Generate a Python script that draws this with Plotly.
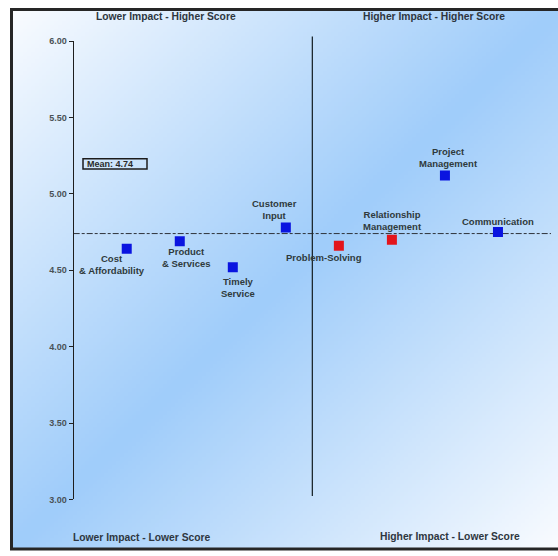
import base64
import struct
import zlib

import numpy as np
import plotly.graph_objects as go

# ---- data -------------------------------------------------------------
drivers = [
    "Cost<br>& Affordability",
    "Product<br>& Services",
    "Timely<br>Service",
    "Customer<br>Input",
    "Problem-Solving",
    "Relationship<br>Management",
    "Project<br>Management",
    "Communication",
]
impact_rank = [1, 2, 3, 4, 5, 6, 7, 8]
scores = [4.64, 4.69, 4.52, 4.78, 4.66, 4.70, 5.12, 4.75]
flagged = [False, False, False, False, True, True, False, False]
mean_score = 4.74
impact_split = 4.5
y_ticks = [3.0, 3.5, 4.0, 4.5, 5.0, 5.5, 6.0]
quadrant_titles = [
    "Lower Impact - Higher Score",
    "Higher Impact - Higher Score",
    "Lower Impact - Lower Score",
    "Higher Impact - Lower Score",
]

# ---- page geometry (pixels) ----------------------------------------------
W, H = 558, 556


def px(x):
    return x / W


def py(y):
    return 1 - y / H


# label placement relative to each marker, in pixels (right, down)
label_offsets = [(-15, 16), (7, 16), (5, 20), (-11, -18),
                 (-15, 12), (1, -19), (4, -18), (0, -11)]


# ---- background: reflected diagonal gradient, encoded as PNG ----------
def gradient_png(w, h):
    xs = np.linspace(0, 1, w)[None, :]
    ys = np.linspace(0, 1, h)[:, None]
    t = (xs + ys) / 2
    k = 1 - np.abs(2 * t - 1)
    k = k ** 0.95
    white = np.array([250, 252, 255], float)
    blue = np.array([160, 205, 250], float)
    img = white + (blue - white) * k[..., None]
    img = np.clip(img, 0, 255).astype(np.uint8)
    raw = b"".join(b"\x00" + img[r].tobytes() for r in range(h))

    def chunk(tag, data):
        c = struct.pack(">I", len(data)) + tag + data
        return c + struct.pack(">I", zlib.crc32(tag + data) & 0xFFFFFFFF)

    png = b"\x89PNG\r\n\x1a\n"
    png += chunk(b"IHDR", struct.pack(">IIBBBBB", w, h, 8, 2, 0, 0, 0))
    png += chunk(b"IDAT", zlib.compress(raw, 9))
    png += chunk(b"IEND", b"")
    return "data:image/png;base64," + base64.b64encode(png).decode()


bg_left, bg_top, bg_right, bg_bottom = 13, 6, 558, 553
FONT = "Liberation Sans, Arial, sans-serif"

fig = go.Figure()

# mean reference line
fig.add_trace(go.Scatter(
    x=[0, 9], y=[mean_score, mean_score], mode="lines",
    line=dict(color="#2e333a", width=1, dash="6px,2px,3px,2px"),
    hoverinfo="skip", showlegend=False,
))

# driver markers
fig.add_trace(go.Scatter(
    x=impact_rank, y=scores, mode="markers",
    marker=dict(symbol="square", size=10,
                color=["#e3141b" if f else "#0a14e0" for f in flagged],
                line=dict(width=0)),
    showlegend=False,
))

label_font = dict(family=FONT, size=9.5, color="#2f3a3c")
for name, xv, yv, (dx, dy) in zip(drivers, impact_rank, scores, label_offsets):
    fig.add_annotation(
        x=xv, y=yv, text=f"<b>{name}</b>", showarrow=False,
        xanchor="center", yanchor="middle", xshift=dx, yshift=-dy,
        font=label_font,
    )

# quadrant headings
quad_font = dict(family=FONT, size=10.3, color="#2e3640")
quad_pos = [(166, 12), (434, 12), (142, 542), (450, 541)]
for text, (qx, qy) in zip(quadrant_titles, quad_pos):
    fig.add_annotation(
        x=px(qx), y=py(qy), xref="paper", yref="paper",
        text=f"<b>{text}</b>", showarrow=False,
        xanchor="center", yanchor="middle", font=quad_font,
    )

# mean value box
fig.add_shape(type="rect", xref="paper", yref="paper",
              x0=px(83), x1=px(147), y0=py(167), y1=py(156.5),
              line=dict(color="#1c1c1c", width=1.5), fillcolor="rgba(0,0,0,0)")
fig.add_annotation(
    x=px(85), y=py(161.7), xref="paper", yref="paper",
    text=f"<b>Mean: {mean_score:.2f}</b>", showarrow=False,
    xanchor="left", yanchor="middle",
    font=dict(family=FONT, size=9, color="#2a2a2a"),
)

# quadrant divider
fig.add_shape(type="line", xref="x", yref="paper",
              x0=impact_split, x1=impact_split, y0=py(500), y1=py(32),
              line=dict(color="#1e2a30", width=1.3))

# outer frame (left, top, bottom edges)
frame = dict(color="#262626", width=3)
fig.add_shape(type="line", xref="paper", yref="paper",
              x0=px(11.5), x1=px(11.5), y0=py(4), y1=py(554), line=frame)
fig.add_shape(type="line", xref="paper", yref="paper",
              x0=px(10), x1=1, y0=py(4.5), y1=py(4.5), line=frame)
fig.add_shape(type="line", xref="paper", yref="paper",
              x0=px(10), x1=1, y0=py(554), y1=py(554), line=frame)

fig.update_layout(
    width=W, height=H,
    margin=dict(l=0, r=0, t=0, b=0),
    paper_bgcolor="white",
    plot_bgcolor="rgba(0,0,0,0)",
    images=[dict(
        source=gradient_png(140, 139), xref="paper", yref="paper",
        x=px(bg_left), y=py(bg_top), sizex=px(bg_right) - px(bg_left),
        sizey=py(bg_top) - py(bg_bottom), sizing="stretch",
        xanchor="left", yanchor="top", layer="below",
    )],
    xaxis=dict(range=[0, 9], domain=[px(73.7), px(551)], visible=False,
               fixedrange=True),
    yaxis=dict(range=[3, 6], domain=[py(503.5), py(36.7)],
               tickvals=y_ticks, ticktext=[f"<b>{v:.2f}</b>" for v in y_ticks],
               ticks="outside", ticklen=4, tickwidth=1, tickcolor="#222",
               showline=True, linecolor="#1e1e1e", linewidth=1.2,
               showgrid=False, zeroline=False,
               tickfont=dict(family=FONT, size=9, color="#4a5256"),
               fixedrange=True),
    showlegend=False,
)

fig.write_html("out.html")
